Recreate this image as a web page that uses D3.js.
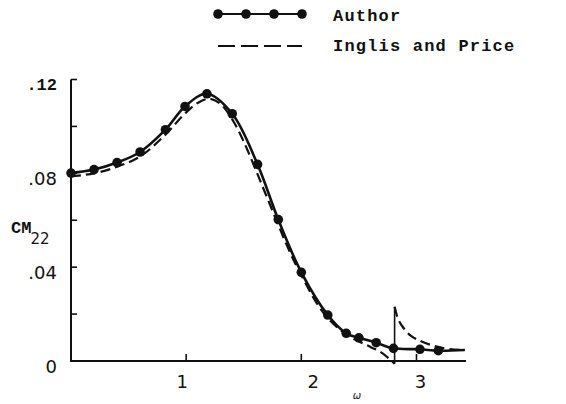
<!DOCTYPE html>
<html lang="en">
<head>
    <meta charset="UTF-8">
    <title>CM22 vs omega</title>
    <script src="https://d3js.org/d3.v7.min.js"></script>
    <style>
        body { margin: 0; background: #fff; }
        svg { display: block; }
        .tw { font-family: "Liberation Mono", monospace; font-weight: bold; fill: #111; }
        .num { font-family: "DejaVu Sans", sans-serif; fill: #111; }
    </style>
</head>
<body>
    <svg width="566" height="404"></svg>

    <script>
        // Author (solid line with dots)
        const authorX = [0, 0.20, 0.40, 0.60, 0.82, 0.99, 1.18, 1.40, 1.62, 1.80, 2.00, 2.23, 2.39, 2.50, 2.65, 2.80, 3.03, 3.19];
        const authorY = [0.0801, 0.0816, 0.0846, 0.0891, 0.0986, 0.1085, 0.1139, 0.1054, 0.0838, 0.0603, 0.0378, 0.0196, 0.0118, 0.0099, 0.0078, 0.0054, 0.0050, 0.0044];
        const authorTail = [3.42, 0.0047];

        // Inglis and Price (dashed), split at the singularity near 2.81
        const inglisX1 = [0, 0.2, 0.4, 0.6, 0.8, 1.0, 1.1, 1.2, 1.3, 1.4, 1.5, 1.6, 1.7, 1.8, 1.9, 2.0, 2.2, 2.4, 2.6, 2.7, 2.81];
        const inglisY1 = [0.0787, 0.0800, 0.0828, 0.0872, 0.0955, 0.1060, 0.1100, 0.1118, 0.1095, 0.1030, 0.0935, 0.0820, 0.0700, 0.0580, 0.0465, 0.0365, 0.0200, 0.0110, 0.0060, 0.0035, -0.0012];
        const inglisX2 = [2.81, 2.84, 2.88, 2.95, 3.05, 3.23, 3.42];
        const inglisY2 = [0.0231, 0.0180, 0.0146, 0.0108, 0.0082, 0.0055, 0.0047];

        const yTicks = [0, 0.02, 0.04, 0.06, 0.08, 0.10, 0.12];
        const yLabels = [[0, "0"], [0.04, ".04"], [0.08, ".08"]];
        const xTicks = [1, 2, 3];

        const svg = d3.select("svg");
        const x = d3.scaleLinear().domain([0, 3.43]).range([71, 466]);
        const y = d3.scaleLinear().domain([0, 0.12]).range([361, 79.5]);

        // axes
        svg.append("line").attr("x1", x(0)).attr("x2", x(3.43)).attr("y1", y(0)).attr("y2", y(0))
            .attr("stroke", "#111").attr("stroke-width", 2);
        svg.append("line").attr("x1", x(0)).attr("x2", x(0)).attr("y1", y(0.12)).attr("y2", y(0) + 1)
            .attr("stroke", "#111").attr("stroke-width", 2);

        svg.selectAll(".ytick").data(yTicks.filter(d => d > 0)).enter().append("line")
            .attr("x1", x(0)).attr("x2", x(0) + 6)
            .attr("y1", d => y(d)).attr("y2", d => y(d))
            .attr("stroke", "#111").attr("stroke-width", 1.6);
        svg.selectAll(".xtick").data(xTicks).enter().append("line")
            .attr("x1", d => x(d)).attr("x2", d => x(d))
            .attr("y1", y(0)).attr("y2", y(0) - 7)
            .attr("stroke", "#111").attr("stroke-width", 1.6);

        svg.selectAll(".ylab").data(yLabels).enter().append("text")
            .attr("class", "num").attr("font-size", 18).attr("text-anchor", "end")
            .attr("x", 57).attr("y", d => y(d[0]) + 12)
            .text(d => d[1]);
        svg.append("text").attr("class", "tw").attr("font-size", 17).attr("text-anchor", "end")
            .attr("x", 57).attr("y", y(0.12) + 10).text(".12");
        svg.selectAll(".xlab").data(xTicks).enter().append("text")
            .attr("class", "num").attr("font-size", 18).attr("text-anchor", "middle")
            .attr("x", d => x(d) + [-4, 12, 4][d - 1]).attr("y", 388)
            .text(d => d);
        svg.append("text").attr("class", "num").attr("font-size", 10).attr("font-style", "italic")
            .attr("text-anchor", "middle").attr("x", 357).attr("y", 399).text("ω");

        // y axis title CM22
        const yt = svg.append("text").attr("x", 11).attr("y", 233);
        yt.append("tspan").attr("class", "tw").attr("font-size", 17).text("CM");
        yt.append("tspan").attr("class", "num").attr("font-size", 15).attr("dy", 11).attr("dx", -1).text("22");

        const line = d3.line().x(d => x(d[0])).y(d => y(d[1])).curve(d3.curveCatmullRom.alpha(0.5));

        // Inglis and Price
        const ing1 = inglisX1.map((v, i) => [v, inglisY1[i]]);
        const ing2 = inglisX2.map((v, i) => [v, inglisY2[i]]);
        [ing1, ing2].forEach(seg => {
            svg.append("path").datum(seg).attr("d", line)
                .attr("fill", "none").attr("stroke", "#111").attr("stroke-width", 2.2)
                .attr("stroke-dasharray", "10,5");
        });
        svg.append("line")
            .attr("x1", x(inglisX2[0])).attr("x2", x(inglisX2[0]))
            .attr("y1", y(inglisY1[inglisY1.length - 1])).attr("y2", y(inglisY2[0]))
            .attr("stroke", "#111").attr("stroke-width", 1.6);

        // Author
        const auth = authorX.map((v, i) => [v, authorY[i]]);
        svg.append("path").datum(auth.concat([authorTail])).attr("d", line)
            .attr("fill", "none").attr("stroke", "#111").attr("stroke-width", 2.6);
        svg.selectAll(".dot").data(auth).enter().append("circle")
            .attr("cx", d => x(d[0])).attr("cy", d => y(d[1])).attr("r", 4.8)
            .attr("fill", "#111");

        // legend
        const lg = svg.append("g");
        lg.append("line").attr("x1", 218).attr("x2", 302).attr("y1", 14).attr("y2", 14)
            .attr("stroke", "#111").attr("stroke-width", 2);
        lg.selectAll("circle").data([218, 246, 274, 302]).enter().append("circle")
            .attr("cx", d => d).attr("cy", 14).attr("r", 4.8).attr("fill", "#111");
        lg.append("line").attr("x1", 218).attr("x2", 302).attr("y1", 46).attr("y2", 46)
            .attr("stroke", "#111").attr("stroke-width", 2.2).attr("stroke-dasharray", "17,6");
        lg.append("text").attr("class", "tw").attr("font-size", 17).attr("letter-spacing", 1.2)
            .attr("x", 333).attr("y", 21).text("Author");
        lg.append("text").attr("class", "tw").attr("font-size", 17).attr("letter-spacing", 1.2)
            .attr("x", 333).attr("y", 51).text("Inglis and Price");
    </script>
</body>
</html>
